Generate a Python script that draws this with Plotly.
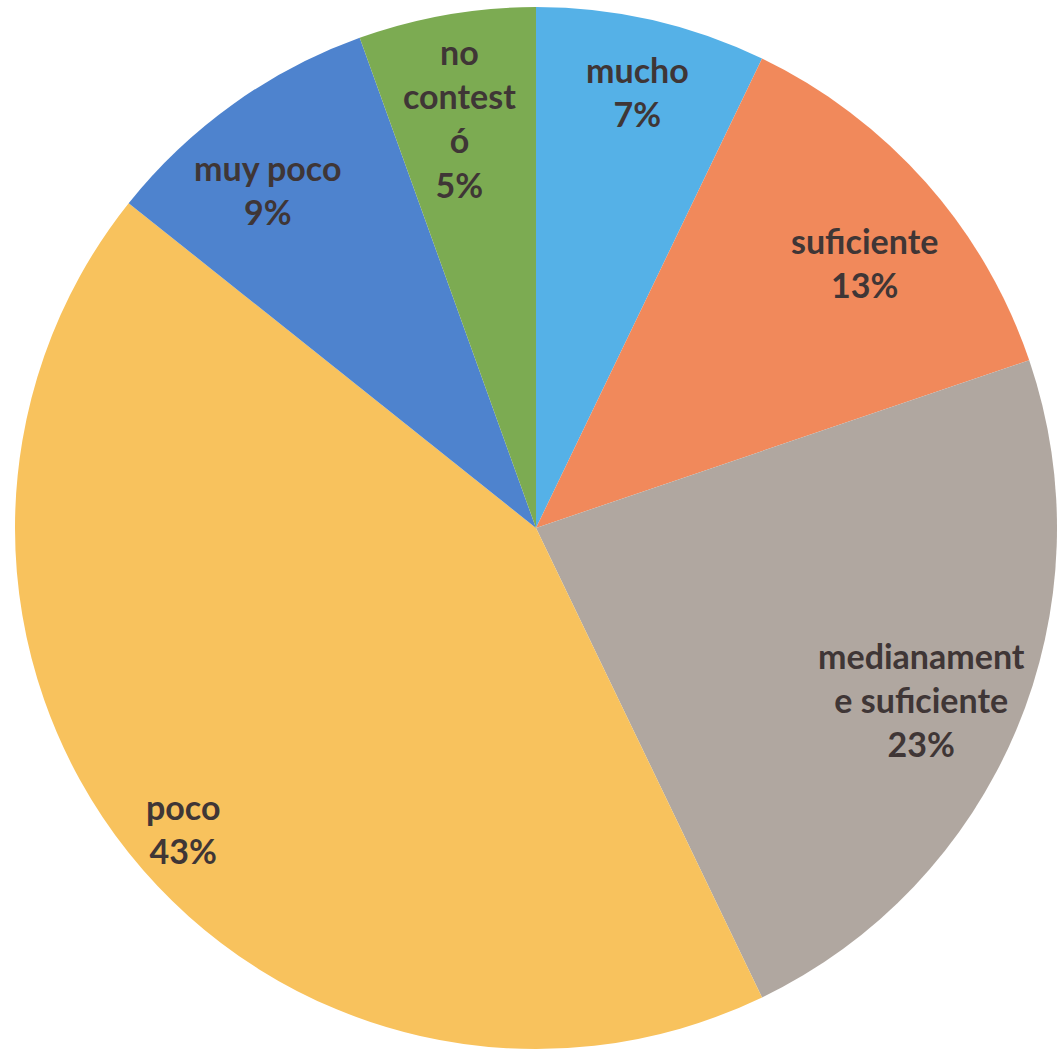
import math
import plotly.graph_objects as go

# ---- data ----
categories = ["mucho", "suficiente", "medianamente suficiente", "poco", "muy poco", "no contestó"]
label_text = ["mucho", "suficiente", "medianament<br>e suficiente", "poco", "muy poco", "no<br>contest<br>ó"]
counts = [13, 23, 42, 78, 16, 10]
colors = ["#55B1E7", "#F1895B", "#B0A7A0", "#F8C25D", "#4E83CE", "#7CAB52"]

# ---- layout geometry (styling) ----
W, H = 1059, 1052
R_PX = 521
CX_PX, CY_PX = 536, 528
dom_x = [(CX_PX - R_PX) / W, (CX_PX + R_PX) / W]
dom_y = [(H - CY_PX - R_PX) / H, (H - CY_PX + R_PX) / H]

label_r = [0.86, 0.81, 0.81, 0.89, 0.83, 0.80]
label_shift = [0.2, 2.6, 1.3, -1.8, -2.8, -0.7]

fig = go.Figure(go.Pie(
    labels=categories,
    values=counts,
    sort=False,
    direction="clockwise",
    rotation=0,
    marker=dict(colors=colors, line=dict(width=0)),
    textinfo="none",
    hoverinfo="label+percent",
    showlegend=False,
    domain=dict(x=dom_x, y=dom_y),
))

total = sum(counts)
cum = 0
annotations = []
for i, v in enumerate(counts):
    mid = (cum + v / 2) / total * 360 + label_shift[i]
    cum += v
    rad = math.radians(mid)
    px = CX_PX + label_r[i] * R_PX * math.sin(rad)
    py = CY_PX - label_r[i] * R_PX * math.cos(rad)
    pct = round(100 * v / total)
    annotations.append(dict(
        x=px / W, y=1 - py / H, xref="paper", yref="paper",
        text=f"{label_text[i]}<br>{pct}%",
        showarrow=False, xanchor="center", yanchor="middle",
        font=dict(family="Lato", size=34, color="#3F3636", weight="bold"),
        align="center",
    ))

fig.update_layout(
    width=W, height=H,
    margin=dict(l=0, r=0, t=0, b=0),
    paper_bgcolor="white",
    plot_bgcolor="white",
    annotations=annotations,
)

fig.write_html("out.html")
